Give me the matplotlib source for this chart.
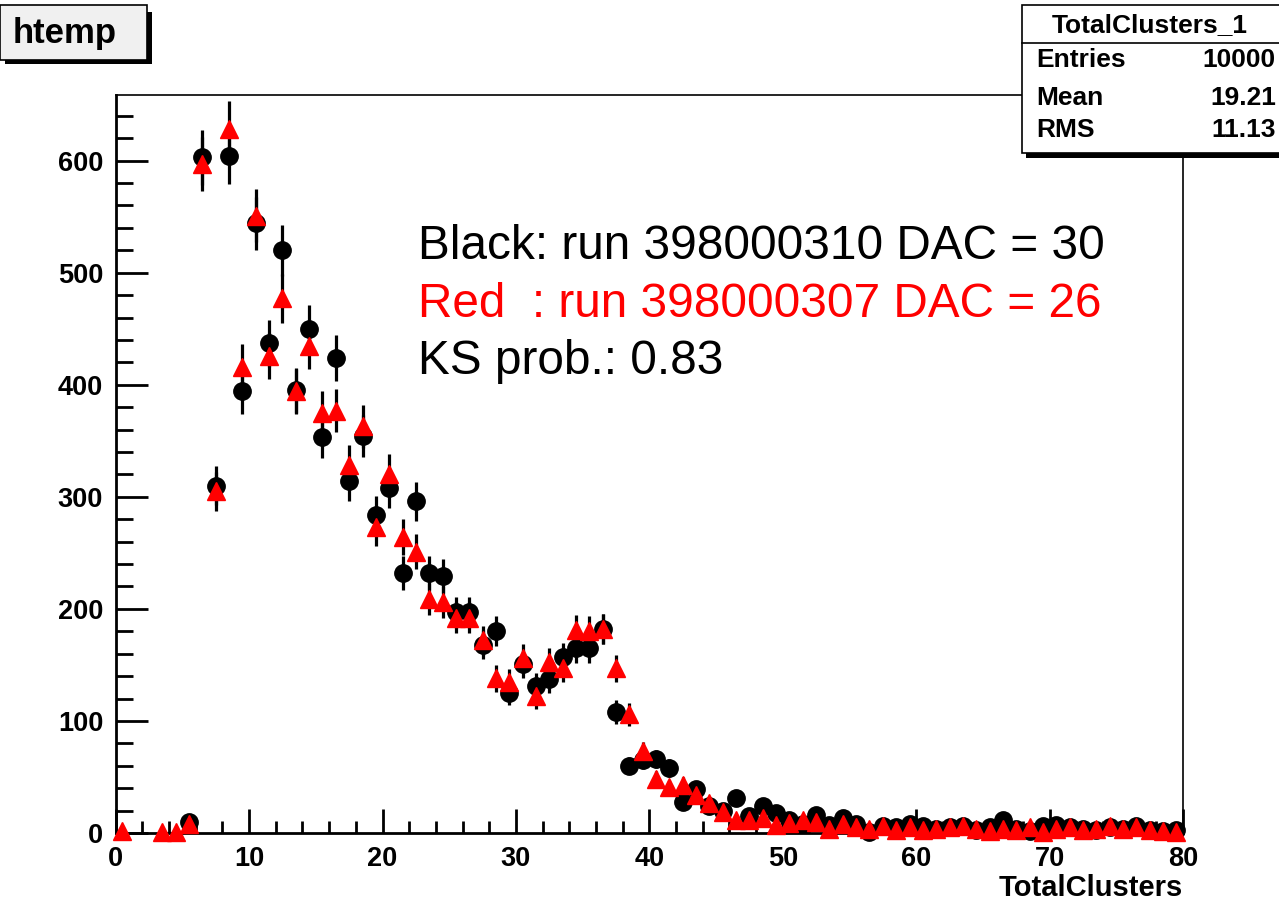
import numpy as np
import matplotlib.pyplot as plt
from matplotlib.patches import Rectangle
from matplotlib.ticker import MultipleLocator

# bin contents, 80 bins of width 1 (0..80)
black_counts = [0, 0, 0, 0, 0, 10, 603, 310, 604, 394,
                544, 437, 520, 395, 450, 353, 424, 314, 354, 284,
                308, 232, 296, 232, 229, 197, 197, 168, 180, 125,
                151, 131, 137, 157, 165, 165, 182, 108, 60, 65,
                66, 58, 28, 39, 24, 20, 31, 15, 24, 18,
                12, 8, 16, 7, 13, 8, 1, 6, 5, 8,
                6, 4, 5, 6, 3, 5, 12, 4, 2, 6,
                7, 5, 4, 3, 5, 4, 6, 3, 2, 3]
red_counts = [2, 0, 0, 1, 1, 8, 597, 305, 628, 416,
              551, 426, 477, 394, 435, 375, 377, 328, 363, 273,
              320, 264, 251, 209, 206, 192, 192, 172, 138, 135,
              156, 122, 153, 147, 181, 180, 182, 147, 106, 73,
              48, 41, 43, 34, 27, 19, 12, 12, 13, 7,
              9, 12, 10, 4, 8, 5, 4, 6, 3, 5,
              3, 4, 5, 6, 4, 2, 4, 3, 5, 1,
              4, 5, 3, 4, 6, 4, 5, 3, 2, 1]

bin_centers = np.arange(80) + 0.5

legend_lines = ['Black: run 398000310 DAC = 30',
                'Red  : run 398000307 DAC = 26',
                'KS prob.: 0.83']
stats_names = ['Entries', 'Mean', 'RMS']
stats_values = ['10000', '19.21', '11.13']

W, H = 1279, 902


def fx(x):
    return x / W


def fy(y):
    return 1 - y / H


fig = plt.figure(figsize=(W / 100, H / 100), dpi=100)
ax = fig.add_axes([fx(115.7), fy(833), (1183 - 115.7) / W, (833 - 95) / H])

for counts, fmt, col, ms, z in [(black_counts, 'o', 'black', 12.5, 3),
                                (red_counts, '^', 'red', 13, 4)]:
    c = np.array(counts, dtype=float)
    keep = c > 0
    eb = ax.errorbar(bin_centers[keep], c[keep], yerr=np.sqrt(c[keep]),
                     fmt=fmt, color=col, mec=col, mfc=col, ecolor='black',
                     ms=ms, elinewidth=2.3, capsize=0, zorder=z)
    eb[0].set_clip_on(False)

ax.set_xlim(0, 80)
ax.set_ylim(0, 658.6)
ax.xaxis.set_major_locator(MultipleLocator(10))
ax.xaxis.set_minor_locator(MultipleLocator(2))
ax.yaxis.set_major_locator(MultipleLocator(100))
ax.yaxis.set_minor_locator(MultipleLocator(20))
ax.tick_params(axis='both', which='both', direction='in', width=2,
               top=False, right=False, labelsize=19.5)
ax.tick_params(axis='y', which='major', length=23, pad=9)
ax.tick_params(axis='y', which='minor', length=12)
ax.tick_params(axis='x', which='major', length=17, pad=9)
ax.tick_params(axis='x', which='minor', length=9)
for lab in ax.get_xticklabels() + ax.get_yticklabels():
    lab.set_fontfamily('Liberation Sans')
    lab.set_fontweight('bold')
for s in ['left', 'bottom']:
    ax.spines[s].set_linewidth(2)
for s in ['top', 'right']:
    ax.spines[s].set_linewidth(1.2)

fig.text(fx(1183), fy(888), 'TotalClusters', ha='right', va='center',
         fontsize=21, fontweight='bold', family='Liberation Sans')

# annotation
for i, (txt, col) in enumerate(zip(legend_lines, ['black', 'red', 'black'])):
    fig.text(fx(418), fy(259.3 + 57.3 * i), txt, color=col, fontsize=34.4,
             family='Liberation Sans', va='baseline', ha='left')

# title box "htemp"
fig.add_artist(Rectangle((fx(5), fy(64)), (152 - 5) / W, (64 - 58) / H,
                         transform=fig.transFigure, color='black', lw=0))
fig.add_artist(Rectangle((fx(146), fy(64)), 6 / W, (64 - 12) / H,
                         transform=fig.transFigure, color='black', lw=0))
fig.add_artist(Rectangle((fx(0), fy(60)), 147 / W, 55 / H,
                         transform=fig.transFigure, facecolor='#f0f0f0',
                         edgecolor='black', lw=1.2))
fig.text(fx(13), fy(33), 'htemp', ha='left', va='center', fontsize=25,
         fontweight='bold', family='Liberation Sans')

# stats box
fig.add_artist(Rectangle((fx(1026), fy(158)), (W - 1026) / W, 6 / H,
                         transform=fig.transFigure, color='black', lw=0,
                         zorder=5))
fig.add_artist(Rectangle((fx(1021.5), fy(153)), (W + 10 - 1021.5) / W, 148 / H,
                         transform=fig.transFigure, facecolor='white',
                         edgecolor='black', lw=1.2, zorder=5))
fig.add_artist(plt.Line2D([fx(1021.5), 1], [fy(43), fy(43)],
                          transform=fig.transFigure, color='black', lw=1.2,
                          zorder=6))
fig.text(fx(1150), fy(25), 'TotalClusters_1', ha='center', va='center',
         fontsize=19, fontweight='bold', family='Liberation Sans', zorder=7)
for i, (n, v) in enumerate(zip(stats_names, stats_values)):
    yy = [60, 98, 130][i]
    fig.text(fx(1036), fy(yy), n, ha='left', va='center', fontsize=19,
             fontweight='bold', family='Liberation Sans', zorder=7)
    fig.text(fx(1276), fy(yy), v, ha='right', va='center', fontsize=19,
             fontweight='bold', family='Liberation Sans', zorder=7)

fig.savefig('out.png', dpi=100)
